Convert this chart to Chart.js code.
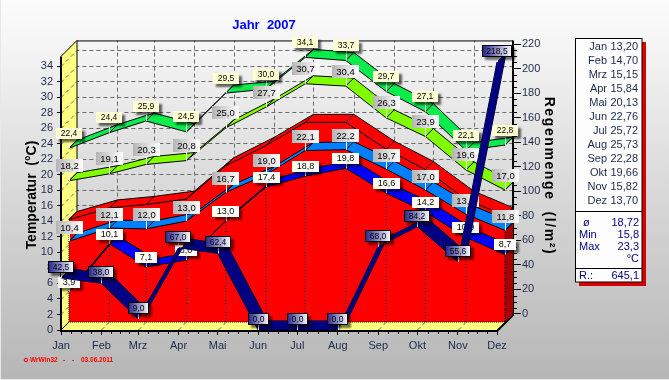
<!DOCTYPE html>
<html><head><meta charset="utf-8">
<style>html,body{margin:0;padding:0;background:#ddd}canvas{display:block}</style>
<script src="https://cdn.jsdelivr.net/npm/chart.js@4"></script>
</head><body>
<canvas id="c" width="669" height="380"></canvas>
<script>
const months=['Jan','Feb','Mrz','Apr','Mai','Jun','Jul','Aug','Sep','Okt','Nov','Dez'];
const monthDays=[0,31,59,90,120,151,181,212,243,273,304,334];
const tempMean=[13.20,14.70,15.15,15.84,20.13,22.76,25.72,25.73,22.28,19.66,15.82,13.70];
const tempAbsMax=[22.4,24.4,25.9,24.5,29.5,30.0,34.1,33.7,29.7,27.1,22.1,22.8];
const tempDayMax=[18.2,19.1,20.3,20.8,25.0,27.7,30.7,30.4,26.3,23.9,19.6,17.0];
const tempNight=[10.4,12.1,12.0,13.0,16.7,19.0,22.1,22.2,19.7,17.0,13.9,11.8];
const tempMin=[3.9,10.1,7.1,8.0,13.0,17.4,18.8,19.8,16.6,14.2,10.9,8.7];
const rain=[42.5,38.0,9.0,67.0,62.4,0,0,0,68.0,84.2,55.6,218.5];
const tempTicks=[0,2,4,6,8,10,12,14,16,18,20,22,24,26,28,30,32,34];
const rainTicks=[0,20,40,60,80,100,120,140,160,180,200,220];
const summaryRows=[['ø','18,72'],['Min','15,8'],['Max','23,3'],['','°C']];
const rainTotal='645,1';

const DX=6.13, DT=1.031;          // 3D depth step expressed in axis units
const RX=7.0, RY=7.4;             // depth of the rain ribbon
const TEXT='#1c2a4a';
const FONT='"Liberation Sans",Arial,sans-serif';

const comma=(v,n)=>v.toFixed(n).replace('.',',');
const pts=(vals,dx,dy)=>vals.map((v,i)=>({x:monthDays[i]+dx,y:v+dy}));
function ribbon(label,vals,color,yAxisID,x0,y0,dy,order){
  const front=pts(vals,x0,y0), back=pts(vals,x0+DX,y0+dy);
  const shape=[...front,...back.slice().reverse(),front[0]];
  const rungs=[];front.forEach((p,i)=>rungs.push(p,back[i],{x:p.x,y:null}));
  return [
    {label,data:shape,yAxisID,fill:'shape',backgroundColor:color,borderColor:'#000',borderWidth:1,order,pointRadius:0,tension:0},
    {label:label+' edges',data:rungs,yAxisID,fill:false,borderColor:'#000',borderWidth:1,order:order-0.5,pointRadius:0,tension:0,spanGaps:false}
  ];
}
const redFace=[...pts(tempMean,DX,DT),{x:monthDays[11]+DX,y:DT},{x:DX,y:DT},{x:DX,y:tempMean[0]+DT}];
const last=monthDays[11];
const redSide=[{x:last+DX,y:tempMean[11]+DT},{x:last+2*DX,y:tempMean[11]+2*DT},{x:last+2*DX,y:2*DT},{x:last+DX,y:DT},{x:last+DX,y:tempMean[11]+DT}];
const drops=[];monthDays.forEach((d,i)=>{if(i>0&&i<12)drops.push({x:d+DX,y:DT},{x:d+DX,y:tempMin[i]+DT},{x:d+DX,y:null});});

const datasets=[
  ...ribbon('Absolutes Maximum',tempAbsMax,'#0cec4c','y',DX,DT,DT,100),
  ...ribbon('Mittleres Maximum',tempDayMax,'#80ff00','y',DX,DT,DT,90),
  {label:'Mittel Seite',data:redSide,yAxisID:'y',fill:'shape',backgroundColor:'#a80000',borderWidth:0,borderColor:'#a80000',order:81,pointRadius:0,tension:0},
  {label:'Mittel Fläche',data:redFace,yAxisID:'y',fill:'shape',backgroundColor:'#ff0000',borderWidth:1,borderColor:'#000',borderDash:[1,1],order:80,pointRadius:0,tension:0},
  ...ribbon('Mittel',tempMean,'#ff0000','y',DX,DT,DT,78),
  {label:'Lote',data:drops,yAxisID:'y',fill:false,borderColor:'#000',borderWidth:1,borderDash:[1,2],order:70,pointRadius:0,spanGaps:false},
  ...ribbon('Mittleres Tagesmittel',tempNight,'#0080ff','y',DX,DT,DT,60),
  ...ribbon('Mittleres Minimum',tempMin,'#0000ff','y',DX,DT,DT,50),
  {label:'TEMP_LABELS',data:[],yAxisID:'y',order:40},
  {label:'Regenmenge',data:[...pts(rain,0,0),...pts(rain,RX,RY).reverse(),{x:0,y:rain[0]}],yAxisID:'y2',fill:'shape',backgroundColor:'#000080',borderColor:'#000040',borderWidth:1,order:30,pointRadius:0,tension:0}
];

function box(ctx,cx,cy,text,s){
  ctx.font=s.font;
  const w=s.w||Math.round(ctx.measureText(text).width)+9, h=s.h, x=Math.round(cx-w/2), y=Math.round(cy-h/2);
  ctx.save();
  ctx.strokeStyle='#fff';ctx.lineWidth=1;ctx.beginPath();ctx.moveTo(Math.round(cx)+.5,y+h);ctx.lineTo(Math.round(cx)+.5,s.py);ctx.stroke();
  if(s.shadow){ctx.shadowColor=s.shadow;ctx.shadowOffsetX=3;ctx.shadowOffsetY=3;ctx.shadowBlur=2;}
  let f=s.fill;
  if(Array.isArray(f)){const g=ctx.createLinearGradient(x,0,x+w,0);g.addColorStop(0,f[0]);g.addColorStop(1,f[1]);f=g;}
  ctx.fillStyle=f;ctx.fillRect(x,y,w,h);
  ctx.shadowColor='transparent';
  if(s.border){ctx.strokeStyle=s.border;ctx.lineWidth=1;ctx.strokeRect(x+.5,y+.5,w-1,h-1);}
  ctx.fillStyle='#000';ctx.textAlign='center';ctx.textBaseline='middle';ctx.fillText(text,x+w/2,y+h/2+.5);
  ctx.restore();
}
function seriesLabels(chart,vals,off,style){
  const {x,y}=chart.scales;
  vals.forEach((v,i)=>{
    const px=x.getPixelForValue(monthDays[i]+DX),py=y.getPixelForValue(v+DT);
    box(chart.ctx,px,py+off,comma(v,1),{...style,py});
  });
}
function poly(ctx,p,fill){ctx.beginPath();p.forEach((q,i)=>i?ctx.lineTo(q[0],q[1]):ctx.moveTo(q[0],q[1]));ctx.closePath();ctx.fillStyle=fill;ctx.fill();}

const threeD={
  id:'threeD',
  beforeDraw(chart){
    const c=chart.ctx,g=c.createLinearGradient(0,0,0,380);
    g.addColorStop(0,'#fbfbfb');g.addColorStop(.12,'#f5f5f5');g.addColorStop(.4,'#e0e0e0');g.addColorStop(1,'#b6b6b6');
    c.fillStyle=g;c.fillRect(0,0,669,380);
    c.fillStyle='#e8e8e8';c.fillRect(0,379,669,1);c.fillRect(0,0,1,380);
  },
  beforeDatasetsDraw(chart){
    const c=chart.ctx,{x,y,y1}=chart.scales;
    const xL=x.getPixelForValue(0),xR=x.getPixelForValue(last),yB=y.getPixelForValue(0);
    const d=x.getPixelForValue(2*DX)-xL;
    const top=y.getPixelForValue(35.25),bT=top-d,bB=yB-d,bR=xR+d;
    poly(c,[[xL,top],[xL+d,bT],[xL+d,bB],[xL,yB]],'#ffff80');
    poly(c,[[xL,yB],[xR,yB],[bR,bB],[xL+d,bB]],'#ffff80');
    c.save();c.strokeStyle='#6a6a6a';c.lineWidth=1;c.setLineDash([4,3]);
    tempTicks.forEach(t=>{const p=Math.round(y.getPixelForValue(t))+.5;
      if(t>0){c.beginPath();c.moveTo(xL,p);c.lineTo(xL+d,p-d);c.lineTo(bR,p-d);c.stroke();}});
    monthDays.forEach((m,i)=>{if(i===0)return;const p=Math.round(x.getPixelForValue(m))+.5;
      if(i===11)return;
      c.beginPath();c.moveTo(p,yB);c.lineTo(p+d,bB);c.lineTo(p+d,bT);c.stroke();});
    c.restore();
    c.save();c.strokeStyle='#000';
    c.lineWidth=1;c.beginPath();c.moveTo(xL+d,bB);c.lineTo(xL+d,bT);c.moveTo(xL+d,bT+.5);c.lineTo(bR,bT+.5);c.moveTo(xL,top);c.lineTo(xL+d,bT);c.moveTo(xL,yB);c.lineTo(xL+d/2,yB-d/2);c.stroke();
    c.lineWidth=2;c.beginPath();c.moveTo(xL,top);c.lineTo(xL,yB+1);c.lineTo(xR,yB+1);c.lineTo(bR,bB+1);c.lineTo(bR,bT);c.stroke();
    // minor ticks
    c.lineWidth=1;c.beginPath();
    monthDays.forEach((m,i)=>{if(i===11)return;const a=x.getPixelForValue(m),b=x.getPixelForValue(monthDays[i+1]);
      for(let k=1;k<4;k++){const p=Math.round(a+(b-a)*k/4)+.5;c.moveTo(p,yB+1);c.lineTo(p,yB+4);}});
    rainTicks.forEach(t=>{if(t===220)return;for(let k=1;k<4;k++){const p=Math.round(y1.getPixelForValue(t+k*5))+.5;c.moveTo(bR,p);c.lineTo(bR+4,p);}});
    c.stroke();c.restore();
  },
  afterDatasetDraw(chart,args){
    if(chart.data.datasets[args.index].label!=='TEMP_LABELS')return;
    const grey={font:'9.5px '+FONT,h:13,fill:['#b4b4b4','#ffffff']};
    const cream={font:'8.5px '+FONT,h:11,fill:'#ffffd4',shadow:'rgba(0,0,0,.6)'};
    const white={font:'9px '+FONT,h:11,fill:['#fffff0','#ffffff'],shadow:'rgba(0,0,0,.55)'};
    seriesLabels(chart,tempAbsMax,-15,cream);
    seriesLabels(chart,tempDayMax,-15,grey);
    seriesLabels(chart,tempNight,-14,grey);
    seriesLabels(chart,tempMin,-9.5,white);
  },
  afterDatasetsDraw(chart){
    const c=chart.ctx,{x,y2}=chart.scales;
    rain.forEach((v,i)=>{
      const px=x.getPixelForValue(monthDays[i]),py=y2.getPixelForValue(v);
      box(c,px,py-11,comma(v,1),{font:'8.5px '+FONT,h:12,fill:['#20208c','#ffffff'],border:'#000',shadow:'rgba(0,0,0,.55)',py});
    });
    // titles
    c.save();
    c.fillStyle='#0000ff';c.font='bold 13px '+FONT;c.textAlign='center';c.textBaseline='middle';
    c.fillText('Jahr  2007',264,25);
    c.fillStyle='#000';c.font='bold 14px '+FONT;
    c.translate(32,195);c.rotate(-Math.PI/2);c.fillText('Temperatur  (°C)',0,0);c.restore();
    c.save();c.fillStyle='#000';c.font='bold 14px '+FONT;c.textAlign='center';c.textBaseline='middle';
    c.letterSpacing='1.6px';c.translate(549,176);c.rotate(Math.PI/2);c.fillText('Regenmenge  (l/m²)',0,0);c.restore();
    // footer
    c.save();c.fillStyle='#ff0000';c.font='bold 6.5px '+FONT;c.textAlign='left';c.textBaseline='middle';
    c.beginPath();c.arc(26,360,1.8,0,Math.PI*2);c.lineWidth=1;c.strokeStyle='#ff0000';c.stroke();
    c.fillText('WrWin32',30,360);c.fillText('-',63,360);c.fillText('-',72,360);c.fillText('03.06.2011',81,360);c.restore();
    // side table
    c.save();
    c.fillStyle='#d80000';c.fillRect(579,42,67,244);
    c.fillStyle='#fdfdfd';c.fillRect(576,38,66,244);
    c.strokeStyle='#000';c.lineWidth=1;c.strokeRect(575.5,38.5,66.5,243.5);
    c.beginPath();c.moveTo(576,211.5);c.lineTo(642,211.5);c.moveTo(576,268.5);c.lineTo(642,268.5);c.stroke();
    c.font='11px '+FONT;c.textBaseline='middle';c.textAlign='right';c.fillStyle=TEXT;
    months.forEach((m,i)=>{const yy=47+i*14;c.fillText(m,607,yy);c.fillText(comma(tempMean[i],2),638,yy);});
    c.fillStyle='#000080';
    const rowsY=[223,235,247,259];
    summaryRows.forEach((r,i)=>{c.textAlign='left';c.fillText(r[0],i===0?583:579,rowsY[i]);c.textAlign='right';c.fillText(r[1],639,rowsY[i]);});
    c.textAlign='left';c.fillText('R.:',579,276);c.textAlign='right';c.fillText(rainTotal,639,276);
    c.restore();
  }
};

const tickFont={family:FONT,size:11};
new Chart(document.getElementById('c'),{
  type:'line',
  data:{datasets},
  plugins:[threeD],
  options:{
    responsive:false,animation:false,
    layout:{padding:{top:40,left:0,right:0,bottom:0}},
    plugins:{legend:{display:false},tooltip:{enabled:false},title:{display:false}},
    elements:{line:{tension:0}},
    scales:{
      x:{type:'linear',min:0,max:347,position:'bottom',
        afterBuildTicks:s=>{s.ticks=monthDays.map(value=>({value}));},
        afterFit:s=>{s.height=50;},
        grid:{drawOnChartArea:false,drawTicks:true,tickLength:5,color:'#000'},border:{display:false},
        ticks:{autoSkip:false,maxRotation:0,minRotation:0,padding:4,font:tickFont,color:TEXT,callback:(v,i)=>months[i]}},
      y:{type:'linear',position:'left',min:0,max:37.37,
        afterBuildTicks:s=>{s.ticks=tempTicks.map(value=>({value}));},
        afterFit:s=>{s.width=61;},
        grid:{drawOnChartArea:false,drawTicks:true,tickLength:4,color:'#000'},border:{display:false},
        ticks:{autoSkip:false,padding:4,font:tickFont,color:TEXT,callback:v=>String(v)}},
      y1:{type:'linear',position:'right',min:-13.04,max:223.3,
        afterBuildTicks:s=>{s.ticks=rainTicks.map(value=>({value}));},
        afterFit:s=>{s.width=155;},
        grid:{drawOnChartArea:false,drawTicks:true,tickLength:7,color:'#000'},border:{display:false},
        ticks:{autoSkip:false,padding:1,font:tickFont,color:TEXT,callback:v=>String(v)}},
      y2:{type:'linear',display:false,min:0,max:236.35}
    }
  }
});
</script>
</body></html>
